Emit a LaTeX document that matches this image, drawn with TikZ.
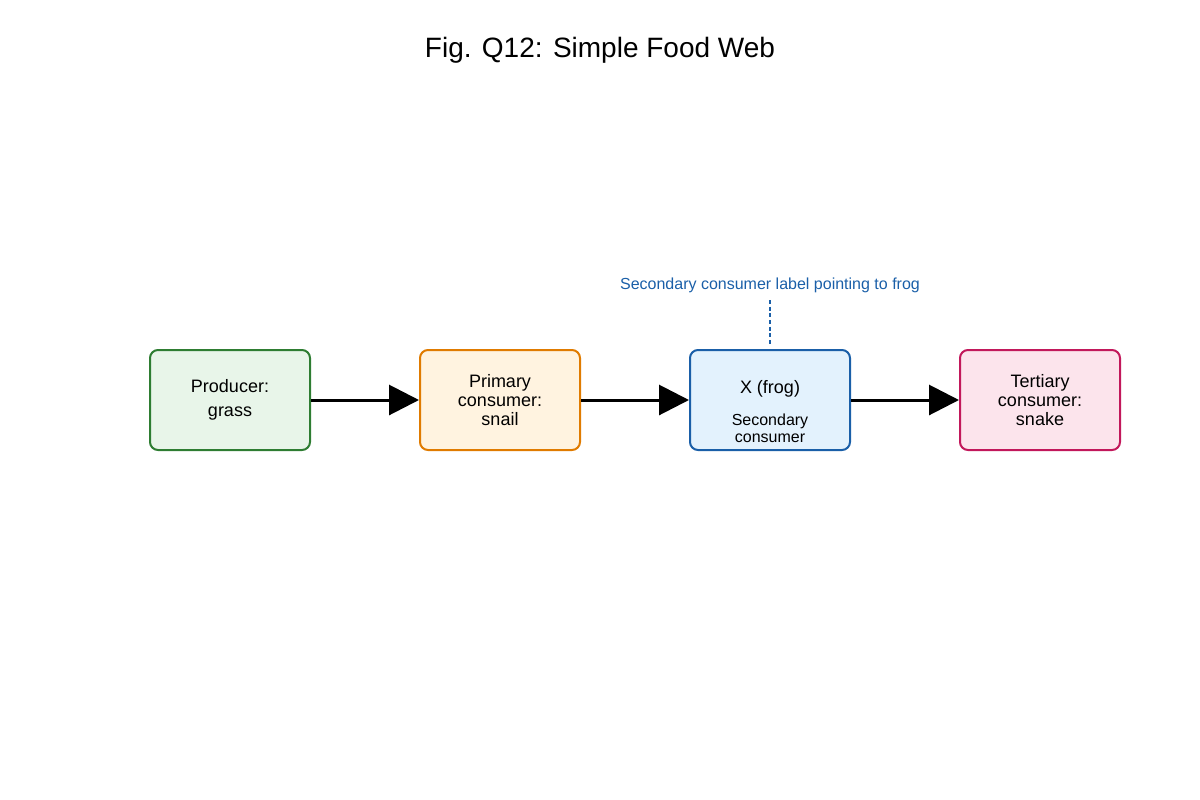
\documentclass[tikz,border=0pt]{standalone}
\usepackage{fontspec}
\setmainfont{Liberation Sans}
\usetikzlibrary{arrows.meta}
\definecolor{gB}{HTML}{2E7D32}\definecolor{gF}{HTML}{E8F5E9}
\definecolor{oB}{HTML}{E07B00}\definecolor{oF}{HTML}{FFF3E0}
\definecolor{bB}{HTML}{1A5FA8}\definecolor{bF}{HTML}{E3F2FD}
\definecolor{pB}{HTML}{C2185B}\definecolor{pF}{HTML}{FCE4EC}
\begin{document}
\begin{tikzpicture}[x=0.75pt,y=-0.75pt,
  box/.style={draw,line width=1.5pt,rounded corners=6pt,minimum width=120pt,minimum height=75pt,align=center,font=\fontsize{13.5}{14.5}\selectfont,inner sep=0pt},
  arr/.style={line width=2.25pt,-{Triangle[length=22.5pt,width=22.5pt]}}]
\useasboundingbox (0,0) rectangle (1200,800);
\node[font=\fontsize{21}{25}\selectfont] (title) at (600,50) {Fig. Q12: Simple Food Web};
\node[box,color=gB,fill=gF,text=black] (prod) at (230,400) {Producer:\\[3pt]grass};
\node[box,color=oB,fill=oF,text=black] (prim) at (500,400) {Primary\\consumer:\\snail};
\node[box,color=bB,fill=bF] (frog) at (770,400) {};
\node[font=\fontsize{13.5}{14.5}\selectfont] (frogt) at (770,389) {X (frog)};
\node[font=\fontsize{12}{13}\selectfont,align=center] (frogs) at (770,428) {Secondary\\consumer};
\node[box,color=pB,fill=pF,text=black] (tert) at (1040,400) {Tertiary\\consumer:\\snake};
\draw[arr] (prod) -- (prim);
\draw[arr] (prim) -- (frog);
\draw[arr] (frog) -- (tert);
\node[text=bB,font=\fontsize{12}{14}\selectfont] (lab) at (770,285) {Secondary consumer label pointing to frog};
\coordinate (lend) at (770,345);
\draw[bB,line width=1.1pt,dash pattern=on 3pt off 2pt] (770,300) -- (lend);
\end{tikzpicture}
\end{document}
